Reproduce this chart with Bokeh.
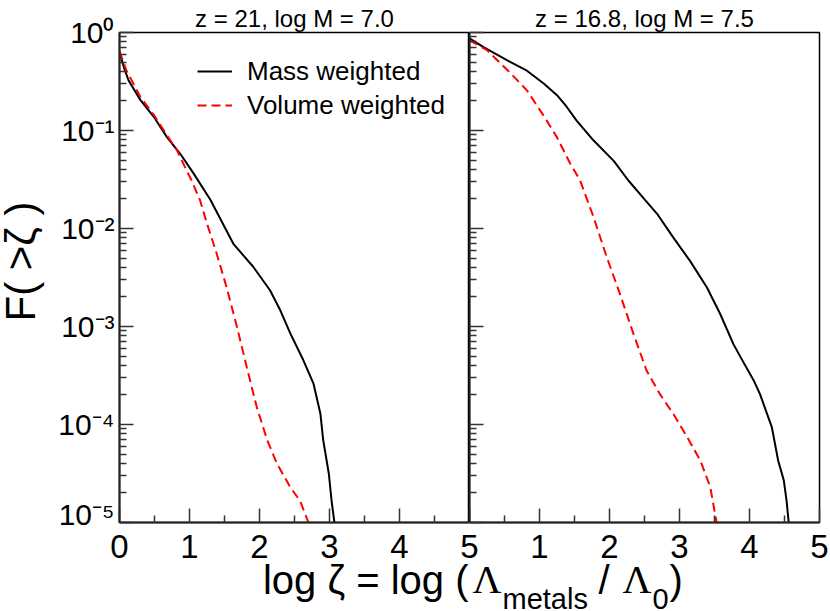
import numpy as np
from bokeh.plotting import figure
from bokeh.models import FixedTicker, Label, Legend, Range1d, CustomJSTickFormatter
from bokeh.layouts import row, column
from bokeh.embed import file_html
from bokeh.resources import INLINE

# ---------------- data (log10 of cumulative fraction F(>zeta)) ----------------
left_title = "z = 21, log M = 7.0"
right_title = "z = 16.8, log M = 7.5"
series_names = ["Mass weighted", "Volume weighted"]

left_mass_x = [0.0, 0.06, 0.13, 0.30, 0.49, 0.68, 0.87, 1.06, 1.30, 1.63, 1.91, 2.15,
               2.30, 2.44, 2.63, 2.77, 2.87, 2.91, 2.99, 3.03, 3.07]
left_mass_logF = [-0.20, -0.35, -0.49, -0.69, -0.86, -1.07, -1.24, -1.44, -1.71, -2.16, -2.39,
                  -2.63, -2.84, -3.07, -3.35, -3.58, -3.89, -4.16, -4.50, -4.78, -5.0]

left_vol_x = [0.0, 0.10, 0.30, 0.49, 0.68, 0.82, 0.96, 1.03, 1.15, 1.25, 1.39, 1.53, 1.68,
              1.82, 1.96, 2.11, 2.25, 2.44, 2.58, 2.70]
left_vol_logF = [-0.19, -0.39, -0.66, -0.84, -1.05, -1.20, -1.41, -1.51, -1.71, -1.95, -2.26,
                 -2.60, -3.01, -3.42, -3.82, -4.16, -4.40, -4.64, -4.78, -5.0]

right_mass_x = [0.0, 0.20, 0.58, 0.82, 1.06, 1.25, 1.39, 1.53, 1.77, 2.06, 2.27, 2.51, 2.68,
                2.91, 3.15, 3.39, 3.58, 3.77, 3.87, 4.06, 4.15, 4.32, 4.41, 4.49, 4.53, 4.56]
right_mass_logF = [-0.06, -0.15, -0.30, -0.39, -0.52, -0.64, -0.76, -0.90, -1.10, -1.31, -1.51,
                   -1.71, -1.85, -2.09, -2.33, -2.60, -2.87, -3.18, -3.31, -3.55, -3.69, -4.03,
                   -4.37, -4.57, -4.78, -5.0]

right_vol_x = [0.0, 0.25, 0.58, 0.82, 1.06, 1.25, 1.44, 1.58, 1.77, 1.96, 2.15, 2.34, 2.53,
               2.72, 2.91, 3.11, 3.30, 3.44, 3.53]
right_vol_logF = [-0.08, -0.18, -0.41, -0.59, -0.85, -1.07, -1.34, -1.51, -1.88, -2.29, -2.67,
                  -3.07, -3.45, -3.69, -3.89, -4.13, -4.37, -4.64, -5.0]

x_ticks = [0, 1, 2, 3, 4, 5]
x_tick_labels = ["0", "1", "2", "3", "4", "5"]
y_exponents = [-5, -4, -3, -2, -1, 0]
y_title = "F( >\u03b6 )"

# ---------------- style / geometry ----------------
FONT = "Liberation Sans"
SERIF = "Liberation Serif"
TITLE_W = 51           # strip with the rotated y title
TICKLAB_W = 68         # left border of the left panel (y tick labels)
LEFT_W = TITLE_W + TICKLAB_W
FRAME_W, FRAME_H = 350, 490
TOP = 32
AX_PAD = 8             # room under the frames for the (label-less) x axes
RIGHT = 11
ROW_H = TOP + FRAME_H + AX_PAD
BOTTOM_H = 611 - ROW_H
TOTAL_W = LEFT_W + 2 * FRAME_W + RIGHT
X0, X1 = 0, 5
Y0, Y1 = 1e-5, 1.0
PX_PER_X = FRAME_W / (X1 - X0)
BASE_FIX = 0.32        # rendered alphabetic baseline sits ~0.32 em low: compensate

x_minor = [t + 0.5 for t in x_ticks[:-1]]
y_major = [10.0 ** k for k in y_exponents]
y_minor = [m * 10.0 ** k for k in y_exponents[:-1] for m in range(2, 10)]

blank = CustomJSTickFormatter(code="return ''")
pow10 = CustomJSTickFormatter(code="""
const sup = {"0": "\u2070", "1": "\u00b9", "2": "\u00b2", "3": "\u00b3", "4": "\u2074",
             "5": "\u2075", "6": "\u2076", "7": "\u2077", "8": "\u2078", "9": "\u2079",
             "-": "\u207b"};
const e = Math.round(Math.log10(tick));
return "10" + String(e).split("").map(c => sup[c]).join("");
""")


def bare(fig):
    fig.xgrid.visible = False
    fig.ygrid.visible = False
    fig.outline_line_color = None
    fig.background_fill_color = "white"
    fig.border_fill_color = "white"
    return fig


def make_panel(title, title_offset, left_border, right_border):
    p = figure(y_axis_type="log", x_range=Range1d(X0, X1), y_range=Range1d(Y0, Y1),
               width=left_border + FRAME_W + right_border, height=ROW_H,
               frame_width=FRAME_W, frame_height=FRAME_H,
               min_border_left=left_border, min_border_right=right_border,
               min_border_top=TOP, min_border_bottom=AX_PAD,
               output_backend="svg", toolbar_location=None)
    bare(p)
    p.outline_line_color = "black"
    p.outline_line_width = 1.5

    p.title.text = title
    p.title.align = "center"
    p.title.offset = title_offset
    p.title.text_font = FONT
    p.title.text_font_size = "24px"
    p.title.text_font_style = "normal"
    p.title.text_color = "black"
    p.title.standoff = 2

    for ax in (p.xaxis[0], p.yaxis[0]):
        ax.axis_line_color = "#222222"
        ax.axis_line_width = 2
        ax.major_tick_in = 14
        ax.major_tick_out = 0
        ax.minor_tick_in = 7
        ax.minor_tick_out = 0
        ax.major_tick_line_color = "#333333"
        ax.minor_tick_line_color = "#333333"
        ax.major_tick_line_width = 1.5
        ax.minor_tick_line_width = 1.5
        ax.formatter = blank
        ax.major_label_standoff = 0
        ax.major_label_text_font_size = "1px"
        ax.major_label_text_line_height = 0.1

    p.xaxis.ticker = FixedTicker(ticks=x_ticks, minor_ticks=x_minor)
    p.yaxis.ticker = FixedTicker(ticks=y_major, minor_ticks=y_minor)
    return p


def to_F(logs):
    return [10.0 ** v for v in logs]


p1 = make_panel(left_title, -9, TICKLAB_W, 0)
p2 = make_panel(right_title, 3, 0, RIGHT)

# y tick labels on the left panel's own axis
ya = p1.yaxis[0]
ya.formatter = pow10
ya.major_label_text_font = FONT
ya.major_label_text_font_size = "30px"
ya.major_label_text_line_height = 1.2
ya.major_label_text_color = "black"
ya.major_label_standoff = 5

r1 = p1.line(left_mass_x, to_F(left_mass_logF), line_color="black", line_width=2)
r2 = p1.line(left_vol_x, to_F(left_vol_logF), line_color="#ff0000", line_width=2, line_dash="9 5")
p2.line(right_mass_x, to_F(right_mass_logF), line_color="black", line_width=2)
p2.line(right_vol_x, to_F(right_vol_logF), line_color="#ff0000", line_width=2, line_dash="9 5")

LEG_ROW = 34
legend = Legend(items=[(series_names[0], [r1]), (series_names[1], [r2])],
                location=(78, FRAME_H - 22 - 2 * LEG_ROW),
                border_line_color=None, background_fill_alpha=0,
                label_text_font=FONT, label_text_font_size="26px", label_text_color="black",
                glyph_width=35, glyph_height=LEG_ROW, label_height=LEG_ROW,
                label_standoff=15, spacing=0, padding=0, margin=0)
p1.add_layout(legend)

# ---------------- left strip: rotated y title ----------------
YT_SIZE = 42
p0 = figure(title=None, x_range=Range1d(0, 1), y_range=Range1d(0, 1),
            width=TITLE_W, height=ROW_H, min_border=0,
            x_axis_location=None, y_axis_location=None,
            output_backend="svg", toolbar_location=None)
bare(p0)
p0.add_layout(Label(x=33 - round(BASE_FIX * YT_SIZE), x_units="screen",
                    y=ROW_H - 269, y_units="screen", text=y_title,
                    angle=np.pi / 2, text_align="center", text_baseline="alphabetic",
                    text_font=FONT, text_font_size=f"{YT_SIZE}px", text_color="black"))

# ---------------- bottom strip: x tick labels and x title ----------------
p3 = figure(title=None,
            x_range=Range1d(X0 - LEFT_W / PX_PER_X, X0 + (TOTAL_W - LEFT_W) / PX_PER_X),
            y_range=Range1d(0, BOTTOM_H),
            width=TOTAL_W, height=BOTTOM_H, min_border=0,
            x_axis_location=None, y_axis_location=None,
            output_backend="svg", toolbar_location=None)
bare(p3)


def fix(base_from_bottom, size):
    return base_from_bottom + round(BASE_FIX * size)


TICK_SIZE = 33
TICK_BASE = fix(611 - 557, TICK_SIZE)
for t, lab in zip(x_ticks, x_tick_labels):
    p3.add_layout(Label(x=t, y=TICK_BASE, y_units="screen", text=lab, text_align="center",
                        text_baseline="alphabetic", text_font=FONT,
                        text_font_size=f"{TICK_SIZE}px", text_color="black"))
for t, lab in zip(x_ticks[1:], x_tick_labels[1:]):
    # the right panel starts where the left one ends
    p3.add_layout(Label(x=X1 + t, y=TICK_BASE, y_units="screen", text=lab, text_align="center",
                        text_baseline="alphabetic", text_font=FONT,
                        text_font_size=f"{TICK_SIZE}px", text_color="black"))

MAIN_Y, SUB_Y = fix(19, 40), fix(4, 29)
p3.add_layout(Label(x=X1, x_offset=-1, y=MAIN_Y, y_units="screen", text="log \u03b6 = log (",
                    text_align="right", text_baseline="alphabetic", text_font=FONT,
                    text_font_size="40px", text_color="black"))
parts = [("\u039b", 3, MAIN_Y, SERIF, "40px"),
         ("metals", 33, SUB_Y, FONT, "29px"),
         ("/", 129, MAIN_Y, FONT, "40px"),
         ("\u039b", 153, MAIN_Y, SERIF, "40px"),
         ("0", 183, SUB_Y, FONT, "29px"),
         (")", 200, MAIN_Y, FONT, "40px")]
for txt, dx, yy, fnt, fs in parts:
    p3.add_layout(Label(x=X1, x_offset=dx, y=yy, y_units="screen", text=txt, text_align="left",
                        text_baseline="alphabetic", text_font=fnt, text_font_size=fs,
                        text_color="black"))

layout = column(row(p0, p1, p2), p3)
open("out.html", "w").write(file_html(layout, INLINE))
